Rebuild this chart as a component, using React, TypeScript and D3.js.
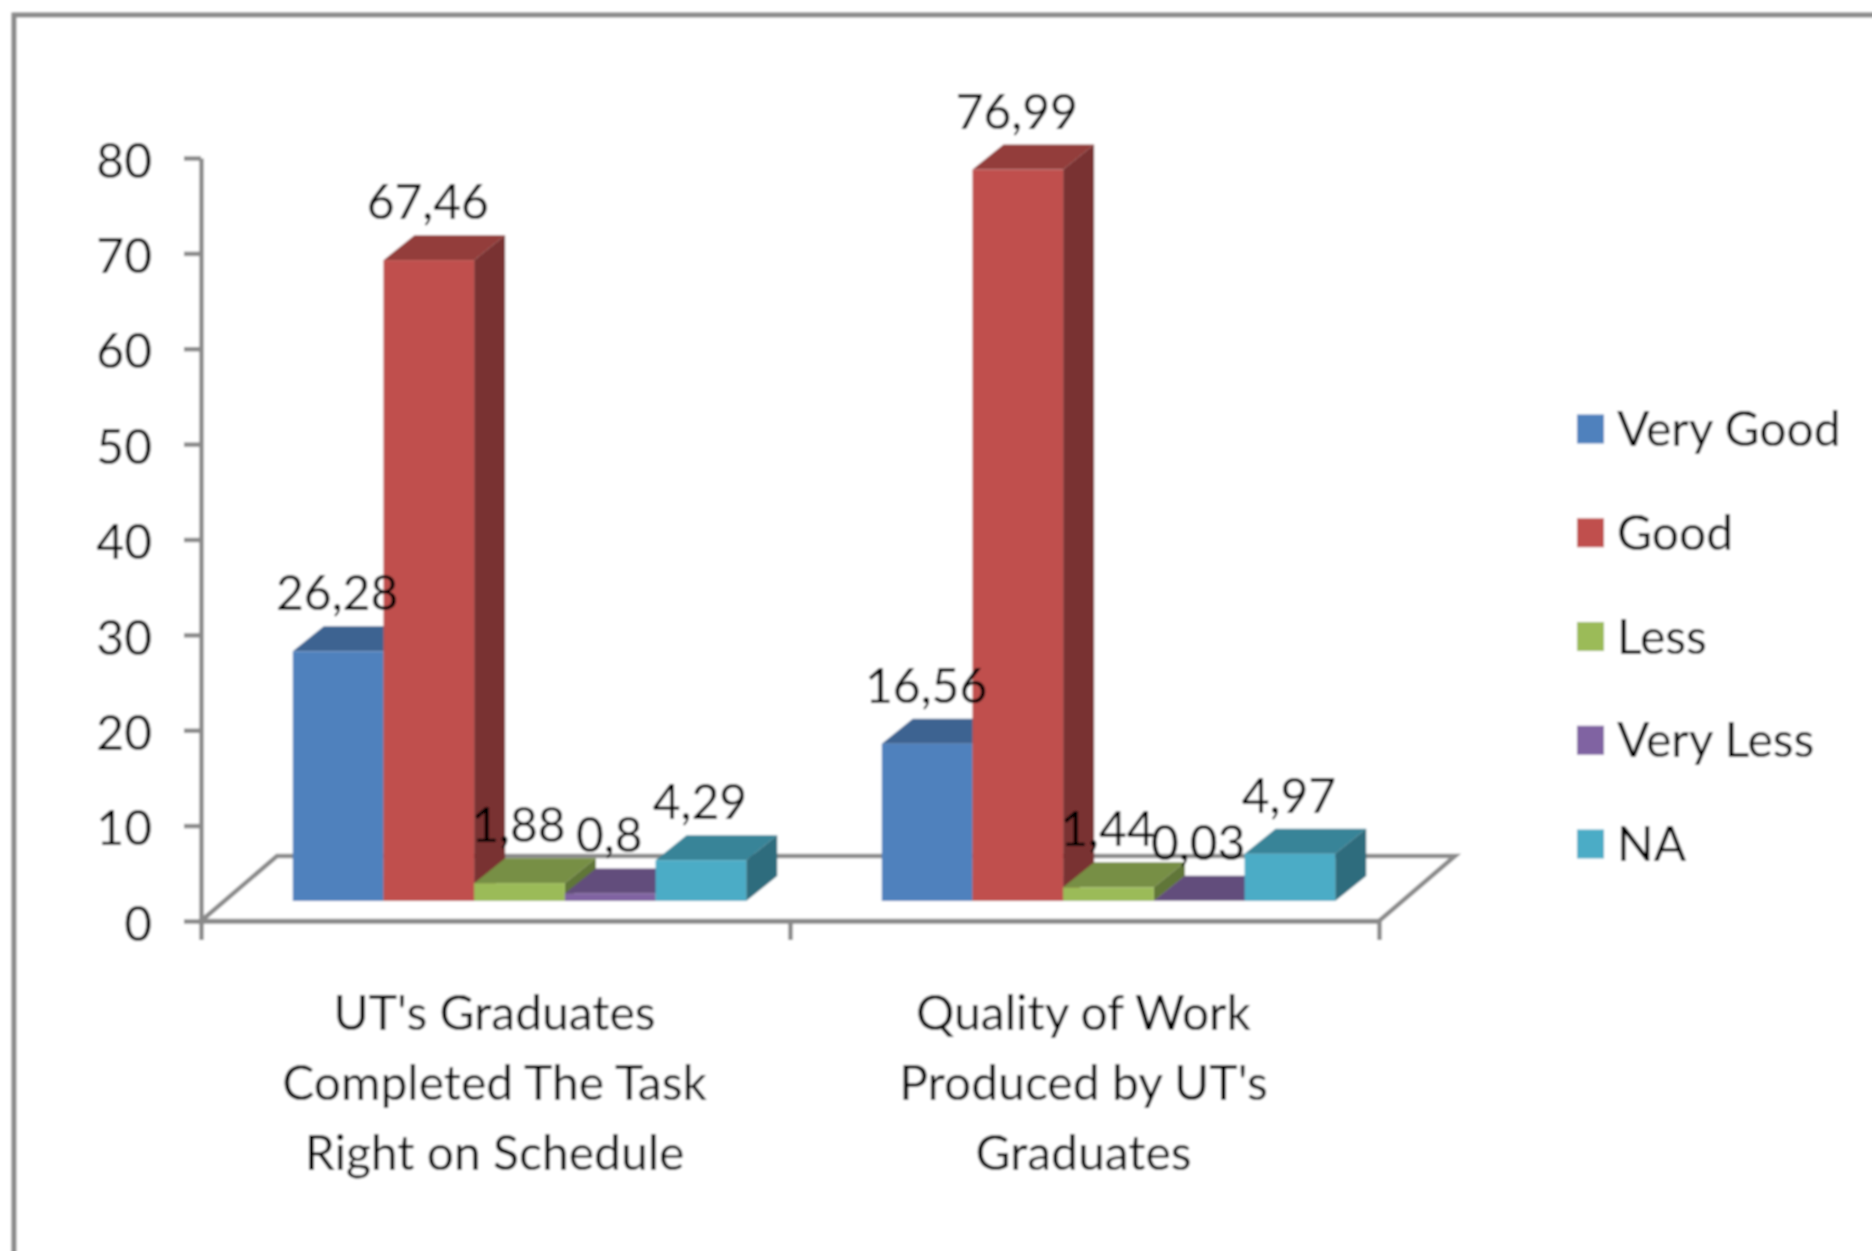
import React, { useEffect, useRef } from "react";
import * as d3 from "d3";

const categories = ["UT's Graduates Completed", "Quality of Work"];
const categoryLines = [
  ["UT's Graduates", "Completed The Task", "Right on Schedule"],
  ["Quality of Work", "Produced by UT's", "Graduates"],
];
const seriesNames = ["Very Good", "Good", "Less", "Very Less", "NA"];
const seriesColors = ["#4f81bd", "#c0504d", "#9bbb59", "#8064a2", "#4bacc6"];
const veryGood = [26.28, 16.56];
const good = [67.46, 76.99];
const less = [1.88, 1.44];
const veryLess = [0.8, 0.03];
const na = [4.29, 4.97];
const seriesValues = [veryGood, good, less, veryLess, na];
const yTicks = [0, 10, 20, 30, 40, 50, 60, 70, 80];

const FONT = "Lato, sans-serif";
const FONT_SIZE = 48;
const TEXT_COLOR = "#000";
const AXIS_COLOR = "#8a8a8a";

export default function App() {
  const ref = useRef<SVGSVGElement>(null);

  useEffect(() => {
    const svg = d3.select(ref.current);
    svg.selectAll("*").remove();

    const defs = svg.append("defs");
    defs
      .append("filter")
      .attr("id", "soft")
      .append("feGaussianBlur")
      .attr("stdDeviation", 0.8);

    const root = svg.append("g").attr("filter", "url(#soft)");

    // outer frame, runs off the right and bottom of the picture
    root
      .append("rect")
      .attr("x", 14)
      .attr("y", 15)
      .attr("width", 1950)
      .attr("height", 1350)
      .attr("fill", "white")
      .attr("stroke", AXIS_COLOR)
      .attr("stroke-width", 5);

    // 3D projection: the depth shift of the floor and of one bar
    const floorDx = 76;
    const floorDy = -65;
    const barDx = 31;
    const barDy = -25;

    const axisY = d3.scaleLinear().domain([0, 80]).range([921, 158]);
    const barY = d3.scaleLinear().domain([0, 80]).range([901, 141]);
    const axisX = d3.scaleLinear().domain([0, 2]).range([201, 1379]);

    const x0 = d3.scaleBand().domain(categories).range([225, 1403]);
    const x1 = d3
      .scaleBand()
      .domain(seriesNames)
      .range([0, x0.bandwidth()])
      .paddingOuter(0.747);

    // floor
    const floor = [
      [axisX(0), axisY(0)],
      [axisX(0) + floorDx, axisY(0) + floorDy],
      [axisX(2) + floorDx, axisY(0) + floorDy],
      [axisX(2), axisY(0)],
    ];
    root
      .append("path")
      .attr("d", d3.line()(floor as [number, number][]) + "Z")
      .attr("fill", "white")
      .attr("stroke", AXIS_COLOR)
      .attr("stroke-width", 4.5);

    // y axis
    const yAxis = root
      .append("g")
      .attr("transform", `translate(${axisX(0)},0)`)
      .call(
        d3
          .axisLeft(axisY)
          .tickValues(yTicks)
          .tickSizeInner(17)
          .tickSizeOuter(0)
          .tickPadding(32)
      );
    yAxis.selectAll("path, line").attr("stroke", AXIS_COLOR).attr("stroke-width", 4.5);
    yAxis
      .selectAll("text")
      .attr("font-family", FONT)
      .attr("font-size", FONT_SIZE)
      .attr("fill", TEXT_COLOR)
      .attr("dy", "0.4em");

    // x axis ticks
    const xAxis = root
      .append("g")
      .attr("transform", `translate(0,${axisY(0)})`)
      .call(
        d3
          .axisBottom(axisX)
          .tickValues([0, 1, 2])
          .tickFormat(() => "")
          .tickSizeInner(19)
          .tickSizeOuter(0)
      );
    xAxis.selectAll("path, line").attr("stroke", AXIS_COLOR).attr("stroke-width", 4.5);

    // bars, painted left to right so that each hides the side of the one before
    categories.forEach((cat, c) => {
      seriesNames.forEach((name, s) => {
        const v = seriesValues[s][c];
        const left = x0(cat)! + x1(name)!;
        const right = left + x1.bandwidth();
        const top = barY(v);
        const base = barY(0);
        const col = d3.rgb(seriesColors[s]);
        const g = root.append("g");
        g.append("path")
          .attr(
            "d",
            d3.line()([
              [left, top],
              [left + barDx, top + barDy],
              [right + barDx, top + barDy],
              [right, top],
            ]) + "Z"
          )
          .attr("fill", col.darker(0.75).formatHex());
        g.append("path")
          .attr(
            "d",
            d3.line()([
              [right, top],
              [right + barDx, top + barDy],
              [right + barDx, base + barDy],
              [right, base],
            ]) + "Z"
          )
          .attr("fill", col.darker(1.3).formatHex());
        g.append("rect")
          .attr("x", left)
          .attr("y", top)
          .attr("width", x1.bandwidth())
          .attr("height", base - top)
          .attr("fill", col.formatHex());
      });
    });

    // value labels sit on top of everything
    categories.forEach((cat, c) => {
      seriesNames.forEach((name, s) => {
        const v = seriesValues[s][c];
        root
          .append("text")
          .attr("x", x0(cat)! + x1(name)! + x1.bandwidth() / 2 - 1)
          .attr("y", barY(v) - 41)
          .attr("text-anchor", "middle")
          .attr("font-family", FONT)
          .attr("font-size", FONT_SIZE)
          .attr("fill", TEXT_COLOR)
          .text(String(v).replace(".", ","));
      });
    });

    // category labels
    categoryLines.forEach((lines, c) => {
      const cx = (axisX(c) + axisX(c + 1)) / 2 - 1;
      lines.forEach((line, i) => {
        root
          .append("text")
          .attr("x", cx)
          .attr("y", 1030 + i * 70)
          .attr("text-anchor", "middle")
          .attr("font-family", FONT)
          .attr("font-size", FONT_SIZE)
          .attr("fill", TEXT_COLOR)
          .text(line);
      });
    });

    // legend
    const legendY = d3.scalePoint().domain(seriesNames).range([429, 844]);
    seriesNames.forEach((name, s) => {
      const y = legendY(name)!;
      root
        .append("rect")
        .attr("x", 1577)
        .attr("y", y - 14.5)
        .attr("width", 27)
        .attr("height", 29)
        .attr("fill", seriesColors[s]);
      root
        .append("text")
        .attr("x", 1617)
        .attr("y", y + 17)
        .attr("font-family", FONT)
        .attr("font-size", FONT_SIZE)
        .attr("fill", TEXT_COLOR)
        .text(name);
    });
  }, []);

  return (
    <svg
      ref={ref}
      width={1872}
      height={1251}
      style={{ position: "absolute", left: 0, top: 0, display: "block", background: "white" }}
    />
  );
}
